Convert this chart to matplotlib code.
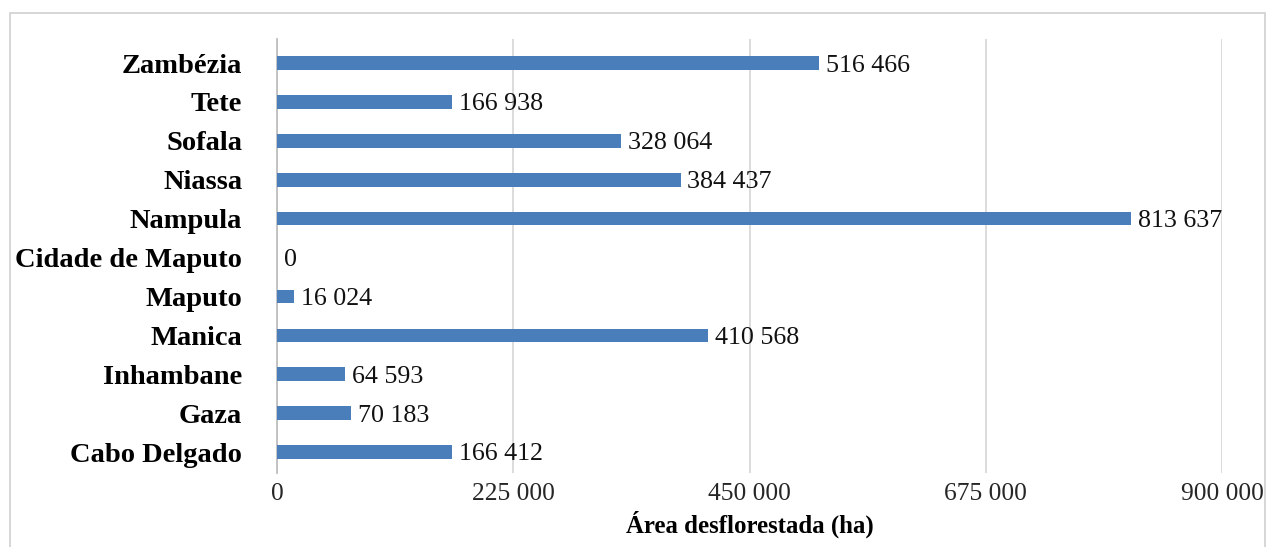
import matplotlib
matplotlib.use("Agg")
import matplotlib.pyplot as plt
from matplotlib.patches import Rectangle

# deforested area per province (ha)
provinces = ["Cabo Delgado", "Gaza", "Inhambane", "Manica", "Maputo",
             "Cidade de Maputo", "Nampula", "Niassa", "Sofala", "Tete", "Zambézia"]
area_ha = [166412, 70183, 64593, 410568, 16024, 0, 813637, 384437, 328064, 166938, 516466]
x_ticks = [0, 225000, 450000, 675000, 900000]


def fmt(v):
    return f"{v:,}".replace(",", " ")


plt.rcParams["font.family"] = ["Liberation Serif", "DejaVu Serif"]

fig = plt.figure(figsize=(12.68, 5.47), dpi=100)
ax = fig.add_axes([277 / 1268, 1 - 473 / 547, 945 / 1268, 434 / 547])

ypos = range(len(provinces))
ax.barh(ypos, area_ha, height=0.35, color="#4a7ebb", zorder=3)
for y, v in zip(ypos, area_ha):
    ax.text(v + 6500, y, fmt(v), va="center_baseline", ha="left",
            fontsize=18.7, color="#111111")

ax.set_ylim(-0.54, 10.62)
ax.set_xlim(0, 900000)
ax.set_yticks(list(ypos))
ax.set_yticklabels(provinces, fontsize=20.5, fontweight="bold")
ax.set_xticks(x_ticks)
ax.set_xticklabels([fmt(t) for t in x_ticks], fontsize=18.4, color="#262626")
ax.tick_params(axis="both", length=0)
ax.tick_params(axis="x", pad=7)
ax.tick_params(axis="y", pad=25)
ax.grid(axis="x", color="#d9d9d9", linewidth=1.3, zorder=0)
for side in ["top", "right", "bottom"]:
    ax.spines[side].set_visible(False)
ax.spines["left"].set_color("#bfbfbf")
ax.spines["left"].set_linewidth(1.3)
ax.set_xlabel("Área desflorestada (ha)", fontsize=17.9, fontweight="bold", labelpad=4)

# thin frame around the whole chart
fig.patches.append(Rectangle((10 / 1268, -0.01), 1255 / 1268, 1 - 13 / 547 + 0.01,
                             transform=fig.transFigure, fill=False,
                             edgecolor="#d0d0d0", linewidth=1.2))

fig.savefig("out.png", dpi=100)
